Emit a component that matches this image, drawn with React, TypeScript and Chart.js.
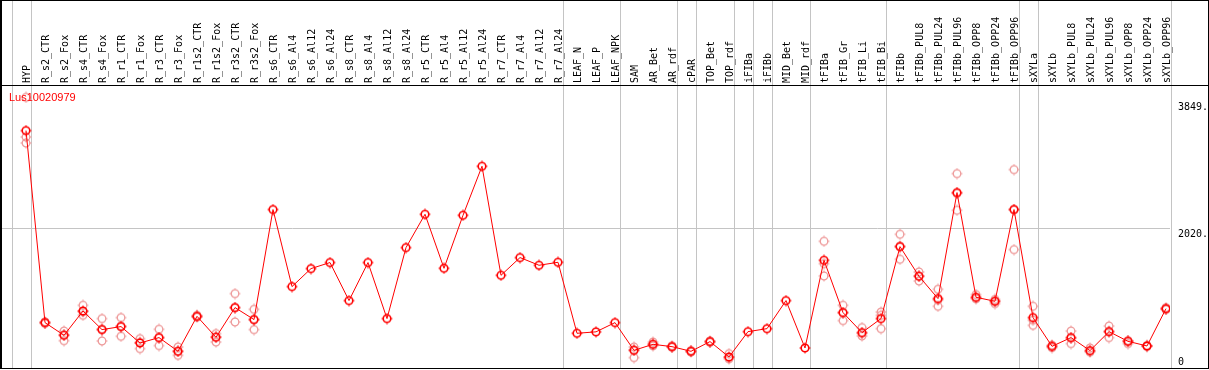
import React, { useEffect, useRef } from 'react';
import { Chart, registerables } from 'chart.js';

Chart.register(...registerables);

const categories = [
  'HYP', 'R_s2_CTR', 'R_s2_Fox', 'R_s4_CTR', 'R_s4_Fox', 'R_r1_CTR', 'R_r1_Fox', 'R_r3_CTR', 'R_r3_Fox',
  'R_r1s2_CTR', 'R_r1s2_Fox', 'R_r3s2_CTR', 'R_r3s2_Fox', 'R_s6_CTR', 'R_s6_Al4', 'R_s6_Al12', 'R_s6_Al24',
  'R_s8_CTR', 'R_s8_Al4', 'R_s8_Al12', 'R_s8_Al24', 'R_r5_CTR', 'R_r5_Al4', 'R_r5_Al12', 'R_r5_Al24',
  'R_r7_CTR', 'R_r7_Al4', 'R_r7_Al12', 'R_r7_Al24', 'LEAF_N', 'LEAF_P', 'LEAF_NPK', 'SAM', 'AR_Bet', 'AR_rdf',
  'cPAR', 'TOP_Bet', 'TOP_rdf', 'iFIBa', 'iFIBb', 'MID_Bet', 'MID_rdf', 'tFIBa', 'tFIB_Gr', 'tFIB_Li', 'tFIB_Bi',
  'tFIBb', 'tFIBb_PUL8', 'tFIBb_PUL24', 'tFIBb_PUL96', 'tFIBb_OPP8', 'tFIBb_OPP24', 'tFIBb_OPP96',
  'sXYLa', 'sXYLb', 'sXYLb_PUL8', 'sXYLb_PUL24', 'sXYLb_PUL96', 'sXYLb_OPP8', 'sXYLb_OPP24', 'sXYLb_OPP96',
];

const meanValues = [
  3427, 655, 472, 823, 554, 598, 361, 439, 241,
  746, 443, 872, 699, 2287, 1175, 1435, 1522,
  973, 1522, 713, 1738, 2219, 1439, 2204, 2912,
  1338, 1594, 1483, 1526, 501, 522, 655, 255, 342, 308,
  241, 381, 159, 525, 568, 973, 289, 1555, 800, 511, 713,
  1752, 1324, 1002, 2532, 1021, 963, 2287,
  728, 313, 439, 251, 525, 385, 318, 857,
];

const repHigh = [
  3907, 665, 534, 905, 713, 728, 424, 559, 303,
  760, 497, 1074, 847, null, null, null, null,
  null, null, null, null, null, null, null, null,
  null, null, null, null, null, null, null, 303, 375, 320,
  250, 390, 207, null, null, null, null, 1829, 905, 583, 808,
  1930, 1386, 1136, 2806, 1060, 990, 2864,
  891, 330, 534, 289, 606, 395, 325, 870,
];

const repLow = [
  3248, 645, 395, 761, 390, 458, 280, 323, 183,
  735, 375, 664, 554, null, null, null, null,
  null, null, null, null, null, null, null, null,
  null, null, null, null, null, null, null, 150, 320, 300,
  232, 372, 135, null, null, null, null, 1328, 684, 462, 568,
  1569, 1256, 891, 2277, 1000, 930, 1709,
  616, 295, 352, 230, 439, 352, 310, 845,
];

const repMid = [
  3335, 655, 480, 810, 560, 605, 370, 440, 240,
  746, 450, 872, 700, null, null, null, null,
  null, null, null, null, null, null, null, null,
  null, null, null, null, null, null, null, 260, 340, 305,
  240, 380, 140, null, null, null, null, 1507, 800, 500, 760,
  1760, 1330, 980, 2520, 1010, 963, 2287,
  690, 313, 430, 245, 530, 390, 318, 857,
];

const separatorAfter = [-1, 0, 28, 31, 34, 35, 37, 38, 39, 41, 45, 52, 53, 60];
const yTickValues = [0, 2020, 3849];
const yTickLabels = ['0', '2020.', '3849.'];
const gridValue = 2020;
const seriesTitle = 'Lus10020979';

function makeMarker(color: string, lw: number) {
  const c = document.createElement('canvas');
  c.width = 12;
  c.height = 12;
  const g = c.getContext('2d')!;
  g.strokeStyle = color;
  g.lineWidth = lw;
  g.beginPath();
  g.arc(6, 6, 3.8, 0, Math.PI * 2);
  g.stroke();
  g.lineWidth = 1;
  g.beginPath();
  g.moveTo(6, 0.5); g.lineTo(6, 2);
  g.moveTo(6, 10); g.lineTo(6, 11.5);
  g.moveTo(0.5, 6); g.lineTo(2, 6);
  g.moveTo(10, 6); g.lineTo(11.5, 6);
  g.stroke();
  return c;
}

export default function App() {
  const ref = useRef<HTMLCanvasElement>(null);

  useEffect(() => {
    document.body.style.margin = '0';
    const canvas = ref.current!;
    const meanMarker = makeMarker('#ff0000', 1.6);
    const repMarker = makeMarker('#ee9a9a', 1.3);

    const meanData = meanValues.map((v, i) => ({ x: i, y: v }));
    const repData: { x: number; y: number }[] = [];
    [repHigh, repLow, repMid].forEach((arr) => {
      arr.forEach((v, i) => {
        if (v !== null) repData.push({ x: i, y: v as number });
      });
    });

    const frame = {
      id: 'frame',
      beforeDraw(chart: any) {
        const { ctx, width, height } = chart;
        ctx.save();
        ctx.fillStyle = '#ffffff';
        ctx.fillRect(0, 0, width, height);
        ctx.restore();
      },
      beforeDatasetsDraw(chart: any) {
        const { ctx, scales, chartArea } = chart;
        ctx.save();
        ctx.strokeStyle = '#c4c4c4';
        ctx.lineWidth = 1;
        separatorAfter.forEach((idx) => {
          const px = Math.round(scales.x.getPixelForValue(idx + 0.24)) + 0.5;
          ctx.beginPath();
          ctx.moveTo(px, 0);
          ctx.lineTo(px, chartArea.bottom);
          ctx.stroke();
        });
        ctx.restore();
      },
      afterDraw(chart: any) {
        const { ctx, width, scales, chartArea } = chart;
        ctx.save();
        ctx.fillStyle = '#000000';
        ctx.fillRect(0, 0, width, 1);
        ctx.fillRect(0, 0, 2, chartArea.bottom + 1);
        ctx.fillRect(0, chartArea.top, width, 1);
        ctx.fillRect(0, chartArea.bottom, width, 1);
        ctx.fillRect(width - 1, 0, 1, chartArea.bottom + 1);

        // category labels, rotated, reading bottom to top
        ctx.font = '10px "DejaVu Sans Mono"';
        ctx.textAlign = 'left';
        ctx.textBaseline = 'middle';
        categories.forEach((label, i) => {
          const px = scales.x.getPixelForValue(i);
          ctx.save();
          ctx.translate(Math.round(px) + 1, chartArea.top - 2);
          ctx.rotate(-Math.PI / 2);
          ctx.fillText(label, 0, 0);
          ctx.restore();
        });

        yTickValues.forEach((v, i) => {
          const py = scales.y.getPixelForValue(v);
          if (v === 0) {
            ctx.textBaseline = 'bottom';
            ctx.fillText(yTickLabels[i], chartArea.right + 8, py - 1);
          } else {
            ctx.textBaseline = 'top';
            ctx.fillText(yTickLabels[i], chartArea.right + 8, py + 1);
          }
        });

        ctx.fillStyle = '#ff0000';
        ctx.font = '11px "Liberation Sans"';
        ctx.textBaseline = 'alphabetic';
        ctx.fillText(seriesTitle, chartArea.left + 9, chartArea.top + 16);
        ctx.restore();
      },
    };

    const chart = new Chart(canvas, {
      type: 'line',
      data: {
        datasets: [
          {
            data: meanData,
            borderColor: '#ff0000',
            borderWidth: 1,
            pointStyle: meanMarker as any,
            pointRadius: 5,
            showLine: true,
            order: 0,
          },
          {
            data: repData,
            showLine: false,
            borderColor: '#ee9a9a',
            pointStyle: repMarker as any,
            pointRadius: 5,
            order: 1,
          },
        ],
      },
      options: {
        responsive: false,
        animation: false,
        devicePixelRatio: 1,
        layout: { autoPadding: false, padding: { left: 0, right: 0, top: 0, bottom: 2 } },
        plugins: { legend: { display: false }, tooltip: { enabled: false }, title: { display: false } },
        scales: {
          x: {
            type: 'linear',
            position: 'top',
            min: -26 / 19,
            max: -26 / 19 + 1170 / 19,
            grid: { display: false, drawTicks: false },
            border: { display: false },
            afterBuildTicks: (scale: any) => {
              scale.ticks = categories.map((_, i) => ({ value: i }));
            },
            afterFit: (scale: any) => {
              scale.height = 85;
            },
            ticks: { display: false },
          },
          y: {
            type: 'linear',
            position: 'right',
            min: 0,
            max: 4085,
            afterBuildTicks: (scale: any) => {
              scale.ticks = yTickValues.map((v) => ({ value: v }));
            },
            afterFit: (scale: any) => {
              scale.width = 39;
            },
            grid: {
              drawTicks: false,
              color: (c: any) => (c.tick && c.tick.value === gridValue ? '#c4c4c4' : 'rgba(0,0,0,0)'),
            },
            border: { display: false },
            ticks: { display: false },
          },
        },
      },
      plugins: [frame],
    });

    return () => chart.destroy();
  }, []);

  return (
    <div style={{ width: 1209, height: 370 }}>
      <canvas ref={ref} width={1209} height={370} style={{ display: 'block' }} />
    </div>
  );
}
